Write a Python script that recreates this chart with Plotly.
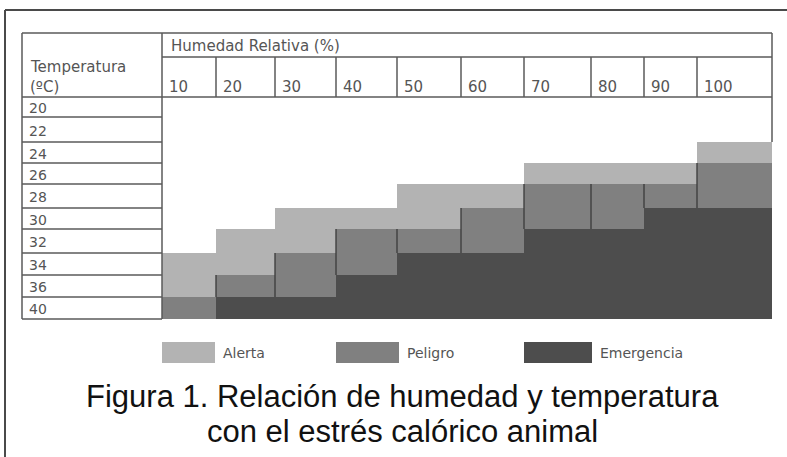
import math
import plotly.graph_objects as go

# ---------------- data ----------------
humedad = [10, 20, 30, 40, 50, 60, 70, 80, 90, 100]
temperaturas = [20, 22, 24, 26, 28, 30, 32, 34, 36, 40]
# temperature (ºC) from which each level starts, for each humidity column
alerta_desde = [34, 32, 30, 30, 28, 28, 26, 26, 26, 24]
peligro_desde = [40, 36, 34, 32, 32, 30, 28, 28, 28, 26]
emergencia_desde = [None, 40, 40, 36, 34, 34, 32, 32, 30, 30]
niveles = ["Alerta", "Peligro", "Emergencia"]

titulo_humedad = "Humedad Relativa (%)"
titulo_temp = ["Temperatura", "(ºC)"]
pie_figura = ["Figura 1. Relación de humedad y temperatura",
              "con el estrés calórico animal"]

# ---------------- layout / style ----------------
W, H = 787, 457
COLORES = ["#b3b3b3", "#808080", "#4d4d4d"]
LINE = "#5a5a5a"
TXT = "#555555"
TABLE_LEFT = 22
LABEL_RIGHT = 162
col_widths = [54, 59, 61, 61, 64, 63, 67, 53, 53, 75]
HEADER_TOP, HEADER_MID, HEADER_BOTTOM = 33, 57, 97
row_heights = [20, 25, 21, 21, 24, 21, 24, 22, 22, 22]

col_edges = [LABEL_RIGHT]
for w in col_widths:
    col_edges.append(col_edges[-1] + w)
row_edges = [HEADER_BOTTOM]
for h in row_heights:
    row_edges.append(row_edges[-1] + h)
TABLE_RIGHT = col_edges[-1]
TABLE_BOTTOM = row_edges[-1]


def nivel(t, j):
    e = emergencia_desde[j]
    if e is not None and t >= e:
        return 3
    if t >= peligro_desde[j]:
        return 2
    if t >= alerta_desde[j]:
        return 1
    return math.nan


z = [[nivel(t, j) for j in range(len(humedad))] for t in temperaturas]

fig = go.Figure()

fig.add_trace(go.Heatmap(
    x=col_edges, y=row_edges, z=z,
    zmin=1, zmax=3,
    colorscale=[[0, COLORES[0]], [0.25, COLORES[0]], [0.25, COLORES[1]],
                [0.75, COLORES[1]], [0.75, COLORES[2]], [1, COLORES[2]]],
    showscale=False, hoverinfo="skip",
))

# thin dark separators at the left edge of "Peligro" blocks
sx, sy = [], []
for j in range(1, len(humedad)):
    top = row_edges[temperaturas.index(peligro_desde[j])]
    e = emergencia_desde[j]
    bot = row_edges[temperaturas.index(e)] if e is not None else TABLE_BOTTOM
    sx += [col_edges[j], col_edges[j], None]
    sy += [top, bot, None]
fig.add_trace(go.Scatter(x=sx, y=sy, mode="lines",
                         line=dict(color="#3a3a3a", width=1.3),
                         hoverinfo="skip", showlegend=False))

shapes = []


def hline(y, x0, x1, w=1.5, c=LINE):
    shapes.append(dict(type="line", xref="x", yref="y", x0=x0, x1=x1, y0=y, y1=y,
                       line=dict(color=c, width=w)))


def vline(x, y0, y1, w=1.5, c=LINE):
    shapes.append(dict(type="line", xref="x", yref="y", x0=x, x1=x, y0=y0, y1=y1,
                       line=dict(color=c, width=w)))


# outer frame
hline(10, 5, W + 20, w=2, c="#4a4a4a")
vline(5, 10, H + 20, w=2, c="#4a4a4a")

# table grid
hline(HEADER_TOP, TABLE_LEFT, TABLE_RIGHT)
hline(HEADER_MID, LABEL_RIGHT, TABLE_RIGHT)
hline(HEADER_BOTTOM, TABLE_LEFT, TABLE_RIGHT)
vline(TABLE_LEFT, HEADER_TOP, TABLE_BOTTOM)
vline(LABEL_RIGHT, HEADER_TOP, TABLE_BOTTOM)
first_colored_last = row_edges[temperaturas.index(alerta_desde[-1])]
vline(TABLE_RIGHT, HEADER_TOP, first_colored_last)
for xe in col_edges[1:-1]:
    vline(xe, HEADER_MID, HEADER_BOTTOM)
for ye in row_edges[1:]:
    hline(ye, TABLE_LEFT, LABEL_RIGHT)

annotations = []


def text(x, y, s, size=15, color=TXT, family="DejaVu Sans", xanchor="left"):
    annotations.append(dict(x=x, y=y, xref="x", yref="y", text=s, showarrow=False,
                            xanchor=xanchor, yanchor="middle",
                            font=dict(family=family, size=size, color=color)))


text(LABEL_RIGHT + 7, (HEADER_TOP + HEADER_MID) / 2 + 1, titulo_humedad)
text(TABLE_LEFT + 6, 67, titulo_temp[0])
text(TABLE_LEFT + 6, 87, titulo_temp[1])
for j, hval in enumerate(humedad):
    text(col_edges[j] + 5, 87, str(hval))
for i, t in enumerate(temperaturas):
    text(TABLE_LEFT + 5, (row_edges[i] + row_edges[i + 1]) / 2 + 1, str(t), size=14)

# legend
leg_x = [162, 336, 524]
leg_w = [53, 63, 68]
LEG_Y0, LEG_Y1 = 342, 363
for k, nombre in enumerate(niveles):
    shapes.append(dict(type="rect", xref="x", yref="y", x0=leg_x[k], x1=leg_x[k] + leg_w[k],
                       y0=LEG_Y0, y1=LEG_Y1, fillcolor=COLORES[k], line=dict(width=0)))
    text(leg_x[k] + leg_w[k] + 6, (LEG_Y0 + LEG_Y1) / 2, nombre, size=14)

# caption
text(402, 396, pie_figura[0], size=31, color="#111111",
     family="Liberation Sans, Arial", xanchor="center")
text(402, 431, pie_figura[1], size=31, color="#111111",
     family="Liberation Sans, Arial", xanchor="center")

fig.update_layout(
    width=W, height=H,
    margin=dict(l=0, r=0, t=0, b=0),
    paper_bgcolor="white", plot_bgcolor="white",
    xaxis=dict(range=[0, W], visible=False, fixedrange=True),
    yaxis=dict(range=[H, 0], visible=False, fixedrange=True),
    shapes=shapes, annotations=annotations,
    showlegend=False,
)

fig.write_html("out.html",
               config={"displayModeBar": False, "staticPlot": True},
               post_script="document.body.style.margin='0';"
                           "document.body.style.overflow='hidden';")
